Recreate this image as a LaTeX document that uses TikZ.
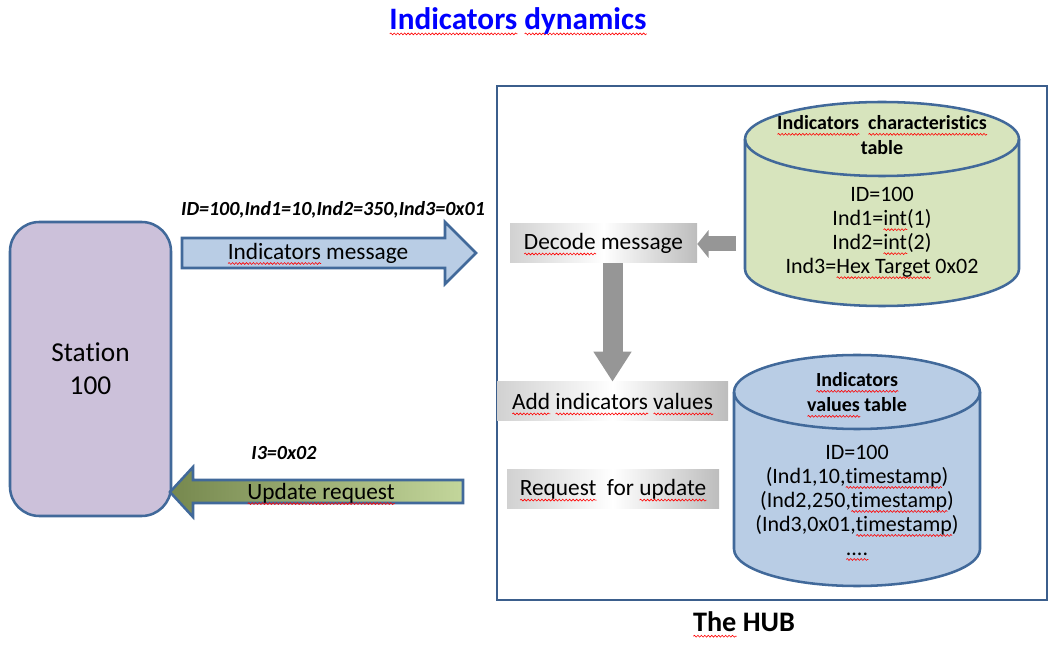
\documentclass[tikz,border=0pt]{standalone}
\usepackage{fontspec}
\setmainfont{Carlito}[Ligatures=NoCommon]
\usetikzlibrary{arrows.meta,decorations.pathmorphing}
\definecolor{edgeblue}{HTML}{41699A}
\definecolor{hubblue}{HTML}{3B5E8C}
\definecolor{stationfill}{HTML}{CCC1DA}
\definecolor{msgfill}{HTML}{B9CDE5}
\definecolor{cylgreen}{HTML}{D7E4BD}
\definecolor{cylblue}{HTML}{B9CDE5}
\definecolor{olivedark}{HTML}{76884E}
\definecolor{olivelight}{HTML}{C3D69B}
\definecolor{arrowgray}{HTML}{969696}
\definecolor{titleblue}{HTML}{0000FF}
\definecolor{spellred}{HTML}{FF0000}
\tikzset{
  lbl/.style={inner sep=0pt, font=\fontsize{17.5}{21}\selectfont},
  boldlbl/.style={inner sep=0pt, font=\fontsize{15}{18}\selectfont\bfseries\itshape},
  cyltitle/.style={inner sep=0pt, align=center, font=\fontsize{15}{18.75}\selectfont\bfseries},
  cylbody/.style={inner sep=0pt, align=center, font=\fontsize{16.5}{18}\selectfont},
  graybox/.style={inner sep=0pt, left color=black!18, right color=black!26, middle color=white, font=\fontsize{17.5}{21}\selectfont},
  outline/.style={draw=edgeblue, line width=1.9pt},
  grayarrow/.style={draw=arrowgray, line cap=butt},
  spellwave/.style={draw=spellred, shade=false, fill=none, line width=0.45pt, decorate, decoration={snake, amplitude=0.7pt, segment length=2.6pt}},
}
\newsavebox\sqwbox
\newlength\sqwlen
\newcommand\sqw[1]{\sbox\sqwbox{#1}\setlength\sqwlen{\wd\sqwbox}\rlap{\smash{\tikz[baseline=0pt]\draw[spellwave] (0pt,-3.3pt) -- (\sqwlen,-3.3pt);}}\usebox\sqwbox}
\begin{document}
\begin{tikzpicture}[x=0.75pt,y=-0.75pt]
\useasboundingbox (0,0) rectangle (1054,648);

% title
\node[inner sep=0pt, text=titleblue, font=\fontsize{23.4}{28}\selectfont\bfseries] (title) at (518,21) {\sqw{Indicators} \sqw{dynamics}};

% hub frame
\node[draw=hubblue, line width=1.6pt, minimum width=412.5pt, minimum height=385.5pt, inner sep=0pt] (hub) at (772,343) {};
\node[inner sep=0pt, font=\fontsize{21.2}{25}\selectfont\bfseries] (hublbl) at (744,622) {\sqw{The} HUB};

% station
\node[outline, fill=stationfill, rounded corners=22pt, minimum width=120.75pt, minimum height=220.5pt, inner sep=0pt, align=center, font=\fontsize{20.5}{24.75}\selectfont] (station) at (90.5,369) {Station\\100};

% indicators message arrow
\draw[outline, fill=msgfill] (182,238) -- (445,238) -- (445,222) -- (476,253) -- (445,284) -- (445,268) -- (182,268) -- cycle;
\node[lbl] (msg) at (318,253) {\sqw{Indicators} message};
\node[boldlbl] (msglbl) at (333,210) {ID=100,Ind1=10,Ind2=350,Ind3=0x01};

% update request arrow
\path[left color=olivedark, right color=olivelight] (463,480) -- (193,480) -- (193,467) -- (170,492) -- (193,517) -- (193,503) -- (463,503) -- cycle;
\draw[edgeblue, line width=1.9pt, line join=miter] (463,480) -- (193,480) -- (193,467) -- (170,492) -- (193,517) -- (193,503) -- (463,503) -- cycle;
\node[lbl] (upd) at (321,493) {\sqw{Update request}};
\node[boldlbl] (updlbl) at (284,453) {I3=0x02};

% gray process boxes
\node[graybox, minimum width=140.25pt, minimum height=29.25pt] (decode) at (603.5,243.5) {\sqw{Decode} message};
\node[graybox, minimum width=173.25pt, minimum height=29.25pt] (add) at (612.5,401.5) {\sqw{Add} \sqw{indicators} \sqw{values}};
\node[graybox, minimum width=159pt, minimum height=29.25pt] (request) at (613,489.5) {\sqw{Request}\ \ for \sqw{update}};

% cylinder 1: characteristics table
\draw[outline, fill=cylgreen] (745,139) -- (745,269) arc[start angle=180, end angle=360, x radius=102.75pt, y radius=27.75pt] -- (1019,139) arc[start angle=0, end angle=180, x radius=102.75pt, y radius=27.75pt] -- cycle;
\draw[outline] (745,139) arc[start angle=180, end angle=360, x radius=102.75pt, y radius=27.75pt];
\node[cyltitle] (c1title) at (882,135.5) {\sqw{Indicators}\ \ \sqw{characteristics}\\table};
\node[cylbody] (c1body) at (882,232) {ID=100\\Ind1=\sqw{int}(1)\\Ind2=\sqw{int}(2)\\Ind3=\sqw{Hex Target} 0x02};

% cylinder 2: values table
\draw[outline, fill=cylblue] (734,392) -- (734,549) arc[start angle=180, end angle=360, x radius=92.25pt, y radius=27.75pt] -- (980,392) arc[start angle=0, end angle=180, x radius=92.25pt, y radius=27.75pt] -- cycle;
\draw[outline] (734,392) arc[start angle=180, end angle=360, x radius=92.25pt, y radius=27.75pt];
\node[cyltitle] (c2title) at (857,392.5) {\sqw{Indicators}\\\sqw{values} table};
\node[cylbody] (c2body) at (857,500) {ID=100\\(Ind1,10,\sqw{timestamp})\\(Ind2,250,\sqw{timestamp})\\(Ind3,0x01,\sqw{timestamp})\\\sqw{....}};

% gray connector arrows
\coordinate (c1gap) at (736,244);
\draw[grayarrow, line width=11.25pt, -{Triangle[length=8.5pt, width=20.5pt]}] (c1gap) -- (decode.east |- c1gap);
\draw[grayarrow, line width=15pt, -{Triangle[length=22.5pt, width=27pt]}] (add.north |- decode.south) -- (add.north);
\end{tikzpicture}
\end{document}
